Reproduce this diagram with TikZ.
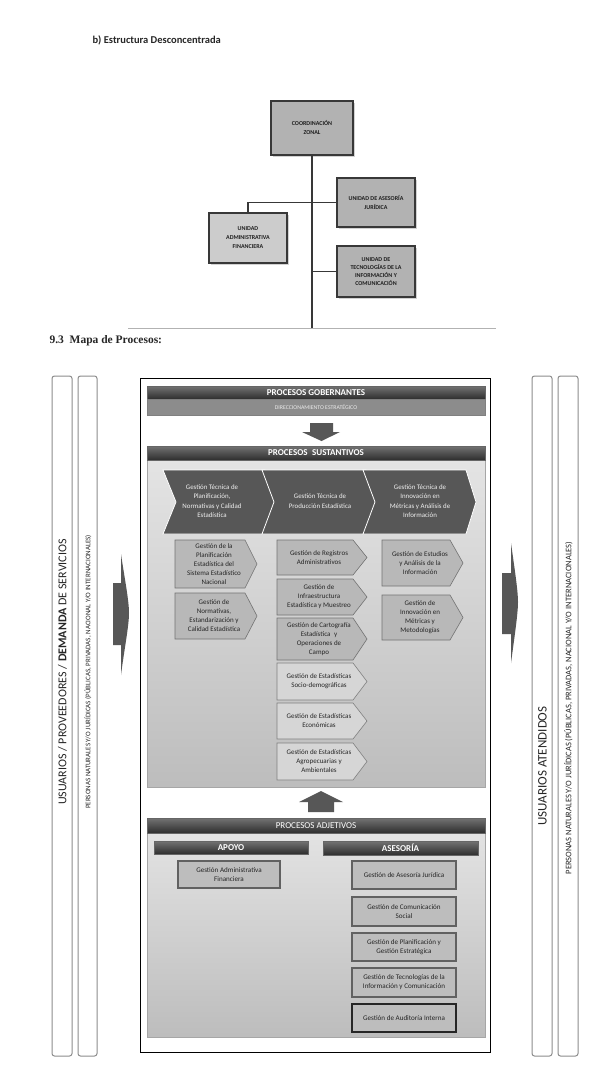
\documentclass[tikz,border=0pt]{standalone}
\usepackage{fontspec}
\setmainfont{Carlito}
\newfontfamily\serifbold{Liberation Serif}
\usetikzlibrary{shadows}
\newcommand\pentbox[8]{% #1 style, #2 name, #3 x1, #4 y1, #5 x2, #6 y2, #7 tip, #8 text
  \draw[#1] (#3,#4) -- (#5,#4) -- ({#5+#7},{(#4+#6)/2}) -- (#5,#6) -- (#3,#6) -- cycle;
  \node[ptext] (#2) at ({(#3+#5)/2+4},{(#4+#6)/2}) {#8};
}
\newcommand\chevbox[9]{% #1 name, #2 x1, #3 y1, #4 x2, #5 y2, #6 tip, #7 notch, #8 text x, #9 text
  \draw[chev] (#2,#3) -- (#4,#3) -- ({#4+#6},{(#3+#5)/2}) -- (#4,#5) -- (#2,#5) -- ({#2+#7},{(#3+#5)/2}) -- cycle;
  \node[chevtext] (#1) at (#8,{(#3+#5)/2-1}) {#9};
}
\begin{document}
\begin{tikzpicture}[x=1pt,y=-1pt,
  orgbox/.style={draw=black!78, line width=1.8pt, fill=black!30, align=center, text=black!88,
    font=\bfseries\fontsize{6}{9}\selectfont, inner sep=1pt,
    drop shadow={shadow xshift=1.6pt, shadow yshift=-1.6pt, fill=black!35}},
  orgline/.style={draw=black!78, line width=1.8pt},
  sidebar/.style={draw=black!45, line width=1pt, rounded corners=2.5pt, fill=white},
  sidetext/.style={rotate=90, text=black!85, inner sep=0pt},
  hbar/.style={draw=black!60, top color=black!55, bottom color=black!82, text=white,
    font=\bfseries\fontsize{9}{10}\selectfont, inner sep=0pt},
  area/.style={draw=black!35, top color=black!10, bottom color=black!26},
  chev/.style={fill=black!66, draw=white, line width=0.8pt},
  chevtext/.style={align=center, text=black!6, font=\fontsize{6.9}{9.3}\selectfont, inner sep=0pt},
  pent/.style={draw=black!55, line width=0.6pt, fill=black!28},
  pentlight/.style={draw=black!50, line width=0.6pt, fill=black!16},
  ptext/.style={align=center, text=black!85, font=\fontsize{7}{9}\selectfont, inner sep=0pt},
  abox/.style={draw=black!62, line width=1.2pt, fill=black!26, align=center, text=black!85,
    font=\fontsize{7.1}{9}\selectfont, inner sep=1pt},
  arrowfill/.style={fill=black!66}
]
\useasboundingbox (0,0) rectangle (592,1083);
\fill[white] (0,0) rectangle (592,1083);

% ---------- Estructura desconcentrada ----------
\node[anchor=west, font=\bfseries\fontsize{10.5}{12}\selectfont, text=black!85] (title) at (89,40) {b) Estructura Desconcentrada};

\node[orgbox, minimum width=82, minimum height=54] (coord) at (312,128) {COORDINACIÓN\\ZONAL};
\node[orgbox, minimum width=78, minimum height=49] (aj) at (376,202.5) {UNIDAD DE ASESORÍA\\JURÍDICA};
\node[orgbox, fill=black!20, minimum width=78, minimum height=50] (uaf) at (248,238) {UNIDAD\\ADMINISTRATIVA\\FINANCIERA};
\node[orgbox, font=\bfseries\fontsize{6}{8}\selectfont, minimum width=78, minimum height=51] (tic) at (376,271.5) {UNIDAD DE\\TECNOLOGÍAS DE LA\\INFORMACIÓN Y\\COMUNICACIÓN};

\coordinate (vend) at (312,328);
\coordinate (sepL) at (128,328);
\coordinate (sepR) at (496,328);
\draw[black!30, line width=0.6pt] (sepL) -- (sepR);
\draw[orgline] (coord.south) -- (vend);
\draw[orgline] (aj.west) -| (uaf.north);
\draw[orgline] (tic.west) -- (tic.west -| coord.south);

\node[anchor=west, font=\serifbold\bfseries\fontsize{11.5}{13}\selectfont, text=black!85] (sec) at (46,341) {9.3\enspace Mapa de Procesos:};

% ---------- side bars ----------
\node[sidebar, minimum width=20, minimum height=680] (lb1) at (62,716) {};
\node[sidebar, minimum width=19, minimum height=680] (lb2) at (87.5,716) {};
\node[sidebar, minimum width=20, minimum height=680] (rb1) at (542,716) {};
\node[sidebar, minimum width=20, minimum height=680] (rb2) at (568,716) {};

\node[sidetext, font=\fontsize{12}{14}\selectfont] (lt1) at (62.5,672) {USUARIOS / PROVEEDORES / \textbf{DEMANDA} DE SERVICIOS};
\node[sidetext, font=\fontsize{7}{8}\selectfont] (lt2) at (88,672) {PERSONAS NATURALES Y/O JURÍDICAS (PÚBLICAS, PRIVADAS, NACIONAL Y/O INTERNACIONALES)};
\node[sidetext, font=\fontsize{13}{14}\selectfont] (rt1) at (542.5,766) {USUARIOS ATENDIDOS};
\node[sidetext, font=\fontsize{8.5}{10}\selectfont] (rt2) at (568.5,708) {PERSONAS NATURALES Y/O JURÍDICAS (PÚBLICAS, PRIVADAS, NACIONAL Y/O INTERNACIONALES)};

% side arrows
\fill[arrowfill] (113,583) -- (121,583) -- (121,554) .. controls (124,575) and (129,600) .. (129,613)
  .. controls (129,626) and (124,651) .. (121,675) -- (121,645) -- (113,645) -- cycle;
\fill[arrowfill] (502,573) -- (511,573) -- (511,543) .. controls (514,565) and (518,590) .. (518,602)
  .. controls (518,614) and (514,640) .. (511,663) -- (511,634) -- (502,634) -- cycle;

% ---------- main frame ----------
\node[draw=black, line width=0.8pt, fill=white, minimum width=350, minimum height=674] (frame) at (315,715) {};

\node[hbar, minimum width=338, minimum height=13] (gob) at (316,392.5) {PROCESOS GOBERNANTES};
\node[draw=black!50, fill=black!45, text=black!8, font=\fontsize{5.8}{6}\selectfont, inner sep=0pt,
  minimum width=338, minimum height=16] (dir) at (316,407) {DIRECCIONAMIENTO ESTRATÉGICO};

\fill[arrowfill] (310,423) -- (333,423) -- (333,432) -- (340,432) -- (321.5,441) -- (302,432) -- (310,432) -- cycle;

\node[area, minimum width=338, minimum height=341] (sarea) at (316,616.5) {};
\node[hbar, minimum width=338, minimum height=14] (sust) at (316,453) {PROCESOS\enspace SUSTANTIVOS};

\chevbox{c1}{163}{470}{265}{534}{10}{13}{212}{Gestión Técnica de\\Planificación,\\Normativas y Calidad\\Estadística}
\chevbox{c2}{262}{470}{366}{534}{10}{12}{320}{Gestión Técnica de\\Producción Estadística}
\chevbox{c3}{363}{470}{466}{534}{10}{12}{420}{Gestión Técnica de\\Innovación en\\Métricas y Análisis de\\Información}

\pentbox{pent}{p1}{175}{540}{245}{588}{12}{Gestión de la\\Planificación\\Estadística del\\Sistema Estadístico\\Nacional}
\pentbox{pent}{p2}{175}{593}{245}{639}{12}{Gestión de\\Normativas,\\Estandarización y\\Calidad Estadística}

\pentbox{pent}{q1}{277}{540}{353}{575}{14}{Gestión de Registros\\Administrativos}
\pentbox{pent}{q2}{277}{579}{353}{615}{14}{Gestión de\\Infraestructura\\Estadística y Muestreo}
\pentbox{pent}{q3}{277}{618}{353}{660}{14}{Gestión de Cartografía\\Estadística\enspace y\\Operaciones de\\Campo}
\pentbox{pentlight}{q4}{277}{663}{353}{700}{14}{Gestión de Estadísticas\\Socio-demográficas}
\pentbox{pentlight}{q5}{277}{703}{353}{739}{14}{Gestión de Estadísticas\\Económicas}
\pentbox{pentlight}{q6}{277}{743}{353}{780}{14}{Gestión de Estadísticas\\Agropecuarias y\\Ambientales}

\pentbox{pent}{r1}{382}{540}{450}{586}{13}{Gestión de Estudios\\y Análisis de la\\Información}
\pentbox{pent}{r2}{382}{595}{450}{640}{13}{Gestión de\\Innovación en\\Métricas y\\Metodologías}

\fill[arrowfill] (321,791) -- (343,802) -- (334,802) -- (334,812) -- (308,812) -- (308,802) -- (299,802) -- cycle;

% ---------- adjetivos ----------
\node[area, minimum width=338, minimum height=219] (aarea) at (316,927.5) {};
\node[hbar, font=\fontsize{9}{10}\selectfont, minimum width=338, minimum height=15] (adj) at (316,825.5) {PROCESOS ADJETIVOS};
\node[hbar, minimum width=154, minimum height=13] (apoyo) at (231,847.5) {APOYO};
\node[hbar, minimum width=155, minimum height=14] (ases) at (400.5,848) {ASESORÍA};

\node[abox, minimum width=102, minimum height=27] (gaf) at (229,874.5) {Gestión Administrativa\\Financiera};
\node[abox, minimum width=104, minimum height=28] (gaj) at (404,875) {Gestión de Asesoría Jurídica};
\node[abox, minimum width=104, minimum height=29] (gcs) at (404,911.5) {Gestión de Comunicación\\Social};
\node[abox, minimum width=104, minimum height=28] (gpe) at (404,947) {Gestión de Planificación y\\Gestión Estratégica};
\node[abox, minimum width=104, minimum height=29] (gtic) at (404,982.5) {Gestión de Tecnologías de la\\Información y Comunicación};
\node[abox, draw=black!85, minimum width=104, minimum height=28] (gai) at (404,1018) {Gestión de Auditoría Interna};
\end{tikzpicture}
\end{document}
